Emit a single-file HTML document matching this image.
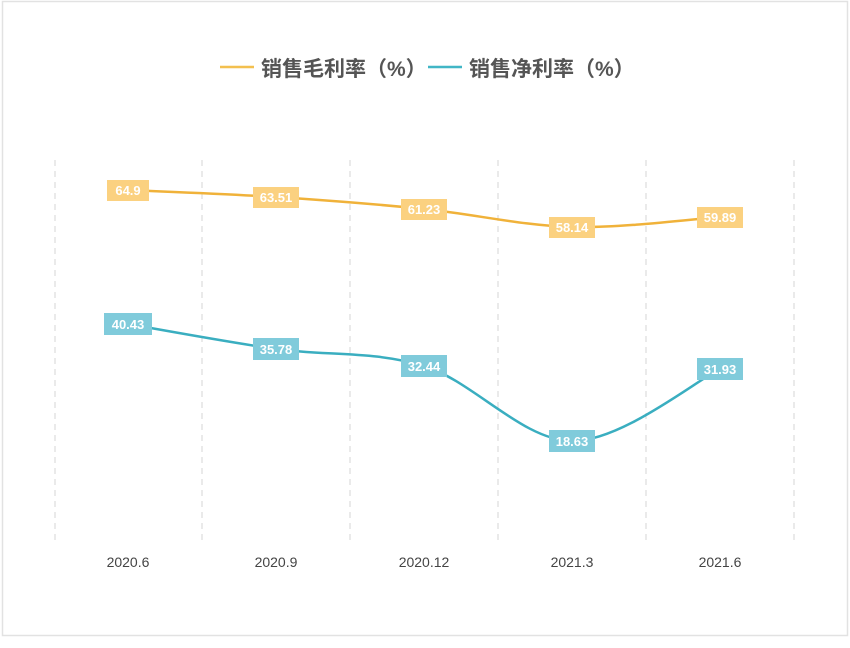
<!DOCTYPE html>
<html><head><meta charset="utf-8"><style>
html,body{margin:0;padding:0;background:#fff;}
svg{display:block;}
text{font-family:"Liberation Sans","Noto Sans CJK SC",sans-serif;}
</style></head><body>
<svg width="850" height="648" viewBox="0 0 850 648" xmlns="http://www.w3.org/2000/svg">
<rect x="2.5" y="1.5" width="845" height="634" fill="#fff" stroke="#e2e2e2" stroke-width="1.5"/>
<!-- legend -->
<line x1="220" y1="67" x2="254" y2="67" stroke="#f3c04f" stroke-width="2.5"/>
<text x="261" y="76" font-size="21" font-weight="bold" fill="#555">销售毛利率（%）</text>
<line x1="428" y1="67" x2="462" y2="67" stroke="#41b6c6" stroke-width="2.5"/>
<text x="469" y="76" font-size="21" font-weight="bold" fill="#555">销售净利率（%）</text>
<!-- grid -->
<g stroke="#d6d6d6" stroke-width="1" stroke-dasharray="6,5">
<line x1="55" y1="160" x2="55" y2="540"/>
<line x1="202" y1="160" x2="202" y2="540"/>
<line x1="350" y1="160" x2="350" y2="540"/>
<line x1="498" y1="160" x2="498" y2="540"/>
<line x1="646" y1="160" x2="646" y2="540"/>
<line x1="794" y1="160" x2="794" y2="540"/>
</g>
<g font-size="14" fill="#444" text-anchor="middle">
<text x="128" y="567">2020.6</text>
<text x="276" y="567">2020.9</text>
<text x="424" y="567">2020.12</text>
<text x="572" y="567">2021.3</text>
<text x="720" y="567">2021.6</text>
</g>
<!-- lines -->
<path d="M128,190 C152.7,191.2 226.7,193.8 276,197 C325.3,200.2 374.7,204 424,209 C473.3,214 522.7,225.7 572,227 C621.3,228.3 695.3,218.7 720,217" fill="none" stroke="#f0b23a" stroke-width="2.5"/>
<path d="M128,324 C152.7,328.2 226.7,342 276,349 C325.3,356 374.7,350.7 424,366 C473.3,381.3 522.7,440.5 572,441 C621.3,441.5 695.3,381 720,369" fill="none" stroke="#3aaec0" stroke-width="2.5"/>
<!-- labels -->
<g font-size="13" font-weight="bold" fill="#fff" text-anchor="middle">
<rect x="107" y="180" width="42" height="21" fill="#fbd180"/><text x="128" y="195">64.9</text>
<rect x="253" y="187" width="46" height="21" fill="#fbd180"/><text x="276" y="202">63.51</text>
<rect x="401" y="199" width="46" height="21" fill="#fbd180"/><text x="424" y="214">61.23</text>
<rect x="549" y="217" width="46" height="21" fill="#fbd180"/><text x="572" y="232">58.14</text>
<rect x="697" y="207" width="46" height="21" fill="#fbd180"/><text x="720" y="222">59.89</text>
<rect x="104" y="313" width="48" height="22" fill="#80cbdb"/><text x="128" y="329">40.43</text>
<rect x="253" y="338" width="46" height="22" fill="#80cbdb"/><text x="276" y="354">35.78</text>
<rect x="401" y="355" width="46" height="22" fill="#80cbdb"/><text x="424" y="371">32.44</text>
<rect x="549" y="430" width="46" height="22" fill="#80cbdb"/><text x="572" y="446">18.63</text>
<rect x="697" y="358" width="46" height="22" fill="#80cbdb"/><text x="720" y="374">31.93</text>
</g>
</svg>
</body></html>
